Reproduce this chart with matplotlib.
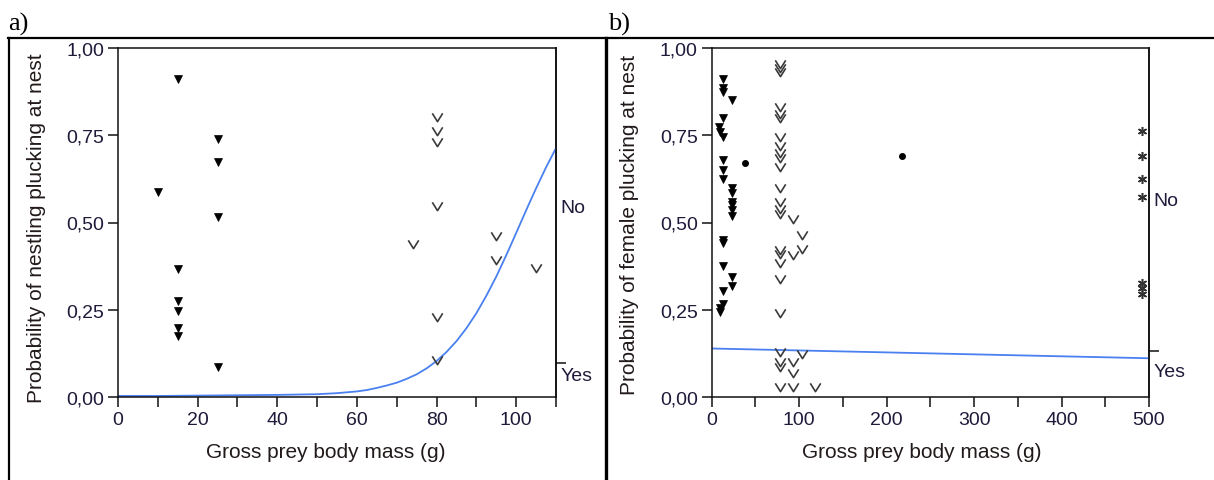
import matplotlib
matplotlib.use("Agg")
import matplotlib.pyplot as plt
import numpy as np
from matplotlib.path import Path
from matplotlib.lines import Line2D

plt.rcParams['font.family'] = ['Liberation Sans', 'DejaVu Sans']

# ---------------- data: panel a (nestling) ----------------
a_tri_x = [10, 15, 15, 15, 15, 15, 15, 25, 25, 25, 25]
a_tri_y = [0.587, 0.911, 0.367, 0.274, 0.247, 0.197, 0.176, 0.739, 0.674, 0.517, 0.087]
a_v_x = [74, 80, 80, 80, 80, 80, 80, 95, 95, 105]
a_v_y = [0.438, 0.801, 0.763, 0.730, 0.548, 0.228, 0.107, 0.462, 0.393, 0.369]
a_curve_x = [0, 10, 20, 30, 40, 50, 55, 60, 62.5, 65, 67.5, 70, 72.5, 75, 77.5, 80,
             82.5, 85, 87.5, 90, 92.5, 95, 97.5, 100, 102.5, 105, 107.5, 110]
a_curve_y = [0.003, 0.003, 0.004, 0.005, 0.006, 0.008, 0.011, 0.016, 0.020, 0.026, 0.033,
             0.041, 0.052, 0.065, 0.082, 0.103, 0.129, 0.160, 0.197, 0.240, 0.290, 0.345,
             0.406, 0.470, 0.535, 0.598, 0.658, 0.713]
a_yes_level = 0.097

# ---------------- data: panel b (female) ----------------
b_tri_x = [13, 13, 13, 23, 13, 8, 10, 13, 13, 13, 13, 23, 23, 23, 23, 23, 23,
           13, 13, 13, 23, 23, 13, 13, 10, 10]
b_tri_y = [0.910, 0.885, 0.875, 0.850, 0.800, 0.775, 0.760, 0.745, 0.680, 0.650, 0.625,
           0.600, 0.585, 0.560, 0.550, 0.535, 0.520, 0.450, 0.440, 0.375, 0.345, 0.318,
           0.304, 0.266, 0.255, 0.244]
b_dot_x = [38, 218]
b_dot_y = [0.670, 0.690]
b_star_x = [492, 492, 492, 492, 492, 492, 492]
b_star_y = [0.762, 0.690, 0.624, 0.573, 0.326, 0.311, 0.296]
b_v_x = [78] * 24 + [93] * 5 + [103] * 3 + [118]
b_v_y = [0.955, 0.942, 0.930, 0.832, 0.812, 0.798, 0.745, 0.720, 0.700, 0.685, 0.660,
         0.600, 0.560, 0.540, 0.525, 0.420, 0.410, 0.385, 0.338, 0.242, 0.130, 0.100,
         0.085, 0.028,
         0.509, 0.406, 0.100, 0.068, 0.028,
         0.463, 0.423, 0.123,
         0.028]
b_curve_x = [0, 250, 500]
b_curve_y = [0.139, 0.125, 0.111]
b_yes_level = 0.131

y_ticks = [0.0, 0.25, 0.5, 0.75, 1.0]
y_ticklabels = ['0,00', '0,25', '0,50', '0,75', '1,00']

# ---------------- styling ----------------
W, H = 1214, 481
fig = plt.figure(figsize=(W / 100, H / 100), dpi=100)

v_marker = Path([(-1, 0.8), (0, -0.8), (1, 0.8)], [Path.MOVETO, Path.LINETO, Path.LINETO])
tick_col = '#1e1a3a'
lab_col = '#221a1a'
line_col = '#4a80f0'


def px_axes(left, right, top, bottom):
    return [left / W, 1 - bottom / H, (right - left) / W, (bottom - top) / H]


def style(ax, xmax, major, minor, ylabel, xlab_x, ylab_x, ylab_y, yes_level, no_y, yes_y):
    ax.set_xlim(0, xmax)
    ax.set_ylim(0, 1)
    ax.set_xticks(major)
    ax.set_xticks(minor, minor=True)
    ax.set_yticks(y_ticks)
    ax.set_yticklabels(y_ticklabels)
    for s in ax.spines.values():
        s.set_linewidth(1.1)
        s.set_color('#111111')
    ax.tick_params(which='both', direction='out', length=7, width=1.1, color='#111111',
                   labelsize=14, labelcolor=tick_col, pad=3)
    ax.set_xlabel('Gross prey body mass (g)', fontsize=15, color=lab_col)
    ax.set_ylabel(ylabel, fontsize=15, color=lab_col)
    ax.xaxis.set_label_coords(xlab_x, -0.155)
    ax.xaxis.label.set_va('center')
    ax.yaxis.set_label_coords(ylab_x, ylab_y)
    ax.yaxis.label.set_va('center')
    sec = ax.secondary_yaxis('right')
    sec.set_yticks([yes_level])
    sec.set_yticklabels([''])
    sec.tick_params(direction='out', length=7, width=1.1, color='#111111')
    sec.spines['right'].set_linewidth(1.1)
    ax.text(1.01, no_y, 'No', transform=ax.transAxes, fontsize=14, color=tick_col,
            ha='left', va='center')
    ax.text(1.01, yes_y, 'Yes', transform=ax.transAxes, fontsize=14, color=tick_col,
            ha='left', va='center')


# panel a
axa = fig.add_axes(px_axes(118, 556, 49, 398))
axa.plot(a_curve_x, a_curve_y, color=line_col, lw=1.3, zorder=2)
axa.plot(a_tri_x, a_tri_y, linestyle='none', marker='v', ms=5.8, color='black', mew=0.5, zorder=3)
axa.plot(a_v_x, a_v_y, linestyle='none', marker=v_marker, ms=7.5, mfc='none', mec='#3a3a3a',
         mew=1.2, zorder=3)
style(axa, 110, list(range(0, 101, 20)), list(range(10, 111, 20)),
      'Probability of nestling plucking at nest', 0.474, -0.185, 0.486,
      a_yes_level, 0.544, 0.063)

# panel b
axb = fig.add_axes(px_axes(711.7, 1149, 49, 398))
axb.plot(b_curve_x, b_curve_y, color=line_col, lw=1.3, zorder=2)
axb.plot(b_tri_x, b_tri_y, linestyle='none', marker='v', ms=5.8, color='black', mew=0.5, zorder=3)
axb.plot(b_v_x, b_v_y, linestyle='none', marker=v_marker, ms=7.5, mfc='none', mec='#3a3a3a',
         mew=1.2, zorder=3)
axb.plot(b_dot_x, b_dot_y, linestyle='none', marker='o', ms=4, color='black', zorder=3)
axb.plot(b_star_x, b_star_y, linestyle='none', marker=(6, 2, 0), ms=6.5, color='#333333',
         mew=1.1, zorder=3)
style(axb, 500, list(range(0, 501, 100)), list(range(50, 451, 100)),
      'Probability of female plucking at nest', 0.48, -0.187, 0.496,
      b_yes_level, 0.5625, 0.0736)

# panel letters
fig.text(8 / W, 1 - 31 / H, 'a)', fontsize=19, family='Liberation Serif', va='baseline', ha='left')
fig.text(608 / W, 1 - 31 / H, 'b)', fontsize=19, family='Liberation Serif', va='baseline', ha='left')

# table frame lines
fig.add_artist(Line2D([8 / W, 1], [1 - 38.5 / H, 1 - 38.5 / H], transform=fig.transFigure,
                      color='black', lw=1.6))
fig.add_artist(Line2D([8.5 / W, 8.5 / W], [1 - 38.5 / H, 0], transform=fig.transFigure,
                      color='black', lw=1.6))
fig.add_artist(Line2D([606 / W, 606 / W], [1 - 38.5 / H, 0], transform=fig.transFigure,
                      color='black', lw=2.4))

fig.savefig('out.png', dpi=100)
